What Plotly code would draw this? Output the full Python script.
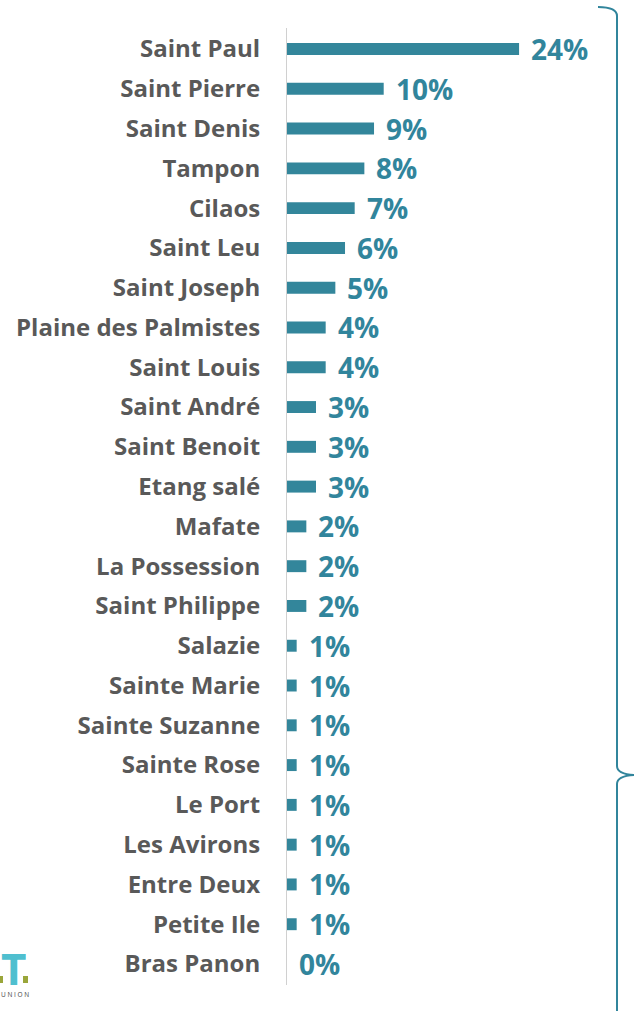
import plotly.graph_objects as go

communes = ["Saint Paul", "Saint Pierre", "Saint Denis", "Tampon", "Cilaos", "Saint Leu",
            "Saint Joseph", "Plaine des Palmistes", "Saint Louis", "Saint André", "Saint Benoit",
            "Etang salé", "Mafate", "La Possession", "Saint Philippe", "Salazie", "Sainte Marie",
            "Sainte Suzanne", "Sainte Rose", "Le Port", "Les Avirons", "Entre Deux", "Petite Ile",
            "Bras Panon"]
values = [24, 10, 9, 8, 7, 6, 5, 4, 4, 3, 3, 3, 2, 2, 2, 1, 1, 1, 1, 1, 1, 1, 1, 0]
labels = ["24%", "10%", "9%", "8%", "7%", "6%", "5%", "4%", "4%", "3%", "3%", "3%", "2%", "2%",
          "2%", "1%", "1%", "1%", "1%", "1%", "1%", "1%", "1%", "0%"]

W, H = 634, 1011
ML, MR, MT, MB = 287, 9, 28, 26
PW, PH = W - ML - MR, H - MT - MB
TEAL = "#31859C"
OLIVE = "#9AA63A"
FONT = "Open Sans"

def px(x):
    return (x - ML) / PW

def py(y):
    return (H - MB - y) / PH

fig = go.Figure()
fig.add_trace(go.Bar(
    x=values, y=communes, orientation="h",
    marker=dict(color="#33869B", line=dict(width=0)),
    hoverinfo="skip",
))
for c, v, t in zip(communes, values, labels):
    fig.add_annotation(x=v, y=c, text=t, showarrow=False, xanchor="left", xshift=10, yshift=0,
                       font=dict(family=FONT, size=28, color=TEAL, weight="bold"))

# curly bracket on the right
path = (f"M {px(598)} {py(7)} Q {px(617)} {py(7)} {px(617)} {py(16)} "
        f"L {px(617)} {py(766)} Q {px(617)} {py(774)} {px(634)} {py(775)} "
        f"Q {px(617)} {py(776)} {px(617)} {py(784)} L {px(617)} {py(1015)}")
fig.add_shape(type="path", path=path, xref="paper", yref="paper",
              line=dict(color=TEAL, width=2))

# partial logo bottom-left
fig.add_annotation(x=px(13), y=py(938), xref="paper", yref="paper", xanchor="center", yanchor="top",
                   text="T", showarrow=False, height=46, valign="top", borderpad=0,
                   font=dict(family=FONT, size=44, color="#4FBFCF", weight="bold"))
for x0, x1 in [(-2, 3), (23, 28)]:
    fig.add_shape(type="rect", xref="paper", yref="paper",
                  x0=px(x0), x1=px(x1), y0=py(983), y1=py(976),
                  fillcolor=OLIVE, line=dict(width=0))
fig.add_annotation(x=px(0), y=py(989), xref="paper", yref="paper", xanchor="left", yanchor="top",
                   text="U N I O N", showarrow=False, borderpad=0,
                   font=dict(family=FONT, size=6.5, color="#444444"))

fig.update_layout(
    width=W, height=H,
    margin=dict(l=ML, r=MR, t=MT, b=MB, autoexpand=False),
    paper_bgcolor="white", plot_bgcolor="white",
    bargap=0.7, showlegend=False,
    xaxis=dict(range=[0, PW / 9.67], visible=False, fixedrange=True),
    yaxis=dict(autorange="reversed", showline=True, linecolor="#D0D0D0", linewidth=1,
               showgrid=False, ticks="", ticklabelstandoff=21, fixedrange=True,
               tickfont=dict(family=FONT, size=24, color="#595959", weight="bold")),
)
fig.write_html("out.html", config={"displayModeBar": False},
               post_script="document.body.style.margin='0';")
